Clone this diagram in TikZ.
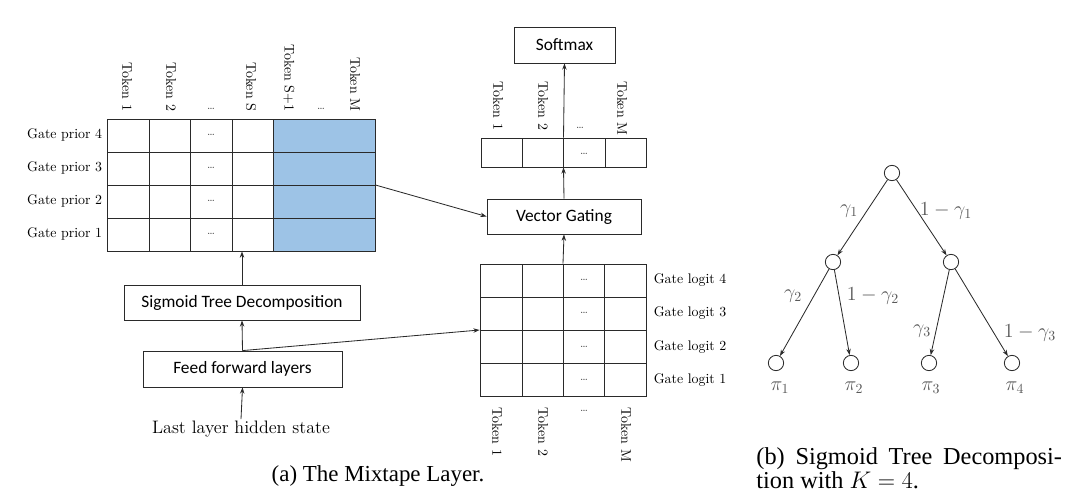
\documentclass[tikz,border=0pt]{standalone}
\usepackage{fontspec}
\newfontfamily\calib{Carlito}
\newfontfamily\tms{Liberation Serif}
\usetikzlibrary{arrows.meta,fit}
\definecolor{priorblue}{HTML}{9DC3E6}
\definecolor{ln}{HTML}{2A2A2A}
\begin{document}
\begin{tikzpicture}[x=0.72pt,y=-0.72pt,
  every path/.style={line width=0.6pt},
  arr/.style={draw=ln,-{Stealth[length=4.5pt,width=3.2pt]}},
  grid/.style={draw=ln,inner sep=0pt},
  box/.style={draw=ln,inner sep=0pt},
  boxtxt/.style={font=\calib\fontsize{12.5}{14}\selectfont},
  tok/.style={rotate=-90,inner sep=1pt,font=\fontsize{10}{12}\selectfont},
  rowlab/.style={inner sep=1pt,font=\fontsize{10}{12}\selectfont},
  dots/.style={inner sep=0pt,text=black!75,font=\fontsize{8}{9}\selectfont},
  tn/.style={circle,draw=ln,minimum size=11pt,inner sep=0pt},
  el/.style={text=black!65,inner sep=1pt,font=\fontsize{14}{16}\selectfont},
  captxt/.style={inner sep=0pt,font=\tms\fontsize{16.5}{18}\selectfont},
  captxtb/.style={inner sep=0pt,font=\tms\fontsize{17.5}{18}\selectfont}]
\useasboundingbox (0,0) rectangle (1080,500);

% ---------- left prior grid ----------
\fill[priorblue] (273,119) rectangle (375,251);
\node[grid,fit={(107,119)(375,251)}] (prior) {};
\foreach \x in {149,190,232,273} \draw[ln] (\x,119) -- (\x,251);
\foreach \y in {152,185,218} \draw[ln] (107,\y) -- (375,\y);
\foreach \y/\k in {135/4,168/3,201/2,234/1}{
  \node[rowlab,anchor=east] (gp\k) at (104,\y) {Gate prior \k};
  \node[dots] (pd\k) at (211,\y) {\ldots};
}
\node[tok,anchor=east] (lt1) at (127,113) {Token 1};
\node[tok,anchor=east] (lt2) at (171,113) {Token 2};
\node[dots] (ltd) at (211,109) {\ldots};
\node[tok,anchor=east] (lts) at (251,113) {Token S};
\node[tok,anchor=east] (ltsp) at (289,113) {Token S+1};
\node[dots] (ltd2) at (321,109) {\ldots};
\node[tok,anchor=east] (ltm) at (355,113) {Token M};

% ---------- left column boxes ----------
\node[box,fit={(124,285)(360,320)}] (std) {};
\node[boxtxt] (stdt) at (std.center) {Sigmoid Tree Decomposition};
\node[box,fit={(143,351)(342,387)}] (ff) {};
\node[boxtxt] (fft) at (ff.center) {Feed forward layers};
\node[inner sep=1pt,font=\fontsize{13}{15}\selectfont] (hid) at (241,429) {Last layer hidden state};

% ---------- middle column ----------
\node[box,fit={(514,27)(615,63)}] (sm) {};
\node[boxtxt] (smt) at (sm.center) {Softmax};
\node[grid,fit={(481,138)(646,167)}] (out) {};
\foreach \x in {522,563,605} \draw[ln] (\x,138) -- (\x,167);
\node[dots] (od) at (584,154) {\ldots};
\node[tok,anchor=east] (ot1) at (498,132) {Token 1};
\node[tok,anchor=east] (ot2) at (543,132) {Token 2};
\node[dots] (otd) at (580,128) {\ldots};
\node[tok,anchor=east] (otm) at (622,137) {Token M};

\node[box,fit={(487,199)(641,234)}] (vg) {};
\node[boxtxt] (vgt) at (vg.center) {Vector Gating};

\node[grid,fit={(480,264)(646,396)}] (logit) {};
\foreach \x in {522,563,604} \draw[ln] (\x,264) -- (\x,396);
\foreach \y in {297,330,363} \draw[ln] (480,\y) -- (646,\y);
\foreach \y/\k in {280/4,313/3,347/2,380/1}{
  \node[rowlab,anchor=west] (gl\k) at (652,\y) {Gate logit \k};
  \node[dots] (ld\k) at (584,\y) {\ldots};
}
\node[tok,anchor=west] (bt1) at (497,406) {Token 1};
\node[tok,anchor=west] (bt2) at (543,406) {Token 2};
\node[dots] (btd) at (584,411) {\ldots};
\node[tok,anchor=west] (btm) at (626,406) {Token M};

% ---------- connectors (a) ----------
\draw[arr] (hid.north) -- (ff.south);
\draw[arr] (ff.north) -- (std.south);
\draw[arr] (std.north) -- (std.north |- prior.south);
\draw[arr] (ff.north) -- (logit.west);
\draw[arr] (prior.east) -- (vg.west);
\draw[arr] (logit.north) -- (vg.south);
\draw[arr] (vg.north) -- (out.south);
\draw[arr] (out.north) -- (sm.south);

\node[captxt] (capa) at (378,476) {(a) The Mixtape Layer.};

% ---------- tree (b) ----------
\node[tn] (r) at (892,173) {};
\node[tn] (a) at (833,262) {};
\node[tn] (b) at (951,262) {};
\node[tn] (l1) at (776,363) {};
\node[tn] (l2) at (851,363) {};
\node[tn] (l3) at (929,363) {};
\node[tn] (l4) at (1012,363) {};
\draw[arr] (r) -- (a);
\draw[arr] (r) -- (b);
\draw[arr] (a) -- (l1);
\draw[arr] (a) -- (l2);
\draw[arr] (b) -- (l3);
\draw[arr] (b) -- (l4);
\node[el] (g1) at (849,211) {$\gamma_1$};
\node[el] (g1c) at (946,211) {$1-\gamma_1$};
\node[el] (g2) at (793,296) {$\gamma_2$};
\node[el] (g2c) at (873,296) {$1-\gamma_2$};
\node[el] (g3) at (922,331) {$\gamma_3$};
\node[el] (g3c) at (1030,333) {$1-\gamma_3$};
\node[el] (p1) at (780,388) {$\pi_1$};
\node[el] (p2) at (854,388) {$\pi_2$};
\node[el] (p3) at (931,388) {$\pi_3$};
\node[el] (p4) at (1015,388) {$\pi_4$};

\node[captxtb,anchor=west,align=left] (capb) at (756,468) {\makebox[220pt][s]{(b) Sigmoid Tree Decomposi-}\\[-0.5pt]tion with $K=4$.};
\end{tikzpicture}
\end{document}
